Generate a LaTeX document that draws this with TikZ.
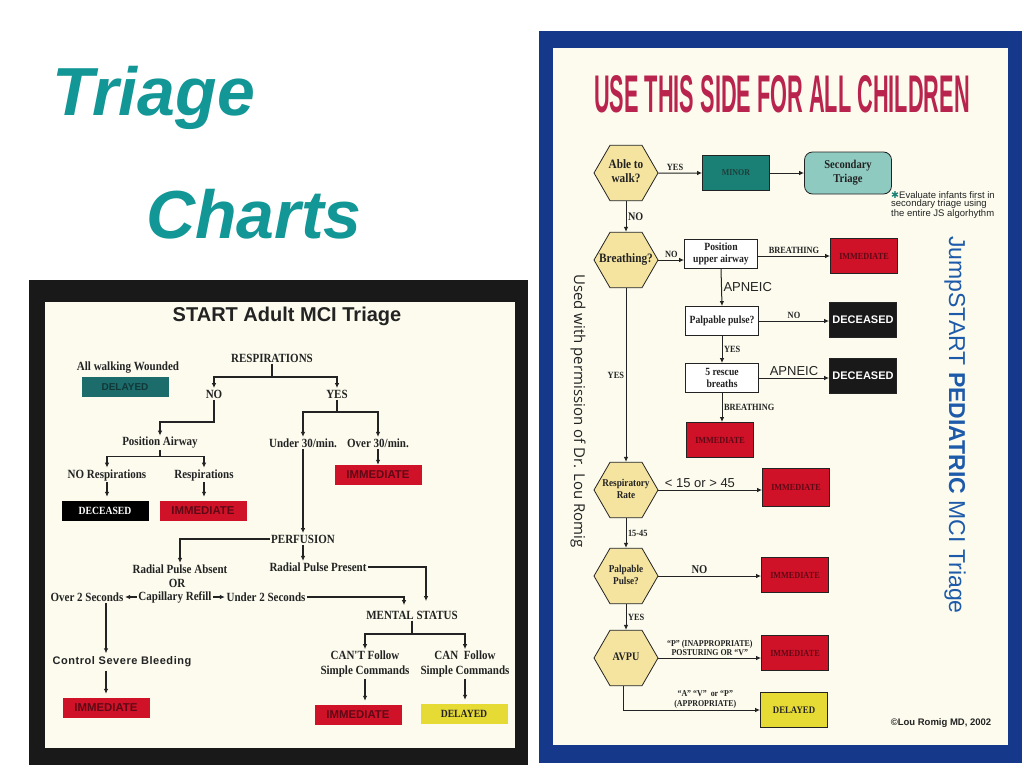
\documentclass[tikz,border=0pt]{standalone}
\usepackage{fontspec}
\setmainfont{Liberation Serif}
\newfontfamily\cardserif[FakeStretch=0.88]{Liberation Serif}
\newfontfamily\cardsans{Liberation Sans}
\newfontfamily\spacedsans[LetterSpace=5]{Liberation Sans}
\newfontfamily\kidsfont[FakeStretch=0.41]{Liberation Sans}
\newfontfamily\sidefont{Open Sans}
\newfontfamily\symfont{DejaVu Sans}
\usepackage{tikz}
\usetikzlibrary{arrows.meta,shapes.geometric,calc}

\definecolor{headteal}{RGB}{18,150,150}
\definecolor{cream}{RGB}{252,251,238}
\definecolor{frameblue}{RGB}{22,56,138}
\definecolor{tagred}{RGB}{208,18,40}
\definecolor{redtext}{RGB}{95,8,22}
\definecolor{tagyellow}{RGB}{230,218,52}
\definecolor{tagteal}{RGB}{28,108,108}
\definecolor{tealtext}{RGB}{18,55,55}
\definecolor{minorteal}{RGB}{26,128,118}
\definecolor{minortext}{RGB}{30,62,56}
\definecolor{lightteal}{RGB}{142,202,192}
\definecolor{hexfill}{RGB}{245,228,160}
\definecolor{kidsred}{RGB}{184,36,78}
\definecolor{jsblue}{RGB}{30,90,170}
\definecolor{ink}{RGB}{35,35,35}

% zero-width text, so the hexagon keeps its size
\newcommand{\hexlabel}[1]{\makebox[0pt]{\begin{tabular}{@{}c@{}}#1\end{tabular}}}

\begin{document}
\begin{tikzpicture}[x=1pt, y=-1pt, >={Latex[length=5pt,width=4.5pt]},
  lbl/.style={font=\cardserif\bfseries\fontsize{12.5}{15}\selectfont, inner sep=1.5pt, align=center, text=ink},
  tag/.style={minimum width=87pt, minimum height=20pt, inner sep=0pt},
  immtag/.style={tag, fill=tagred, text=redtext, font=\cardsans\bfseries\fontsize{11.4}{12}\selectfont},
  deadtag/.style={tag, fill=black, text=white, font=\cardserif\bfseries\fontsize{11}{12}\selectfont},
  yeltag/.style={tag, fill=tagyellow, text=ink, font=\cardserif\bfseries\fontsize{11}{12}\selectfont},
  kbox/.style={draw=ink, line width=0.8pt, minimum width=67pt, minimum height=35pt, inner sep=0pt, text=ink},
  kimm/.style={kbox, fill=tagred, text=redtext, font=\cardserif\bfseries\fontsize{9.3}{10}\selectfont},
  kdead/.style={kbox, fill=black!90, text=white, font=\cardsans\bfseries\fontsize{11}{12}\selectfont},
  kstep/.style={kbox, fill=white, minimum width=73pt, minimum height=29pt, align=center,
    font=\cardserif\bfseries\fontsize{11}{12}\selectfont},
  khex/.style={regular polygon, regular polygon sides=6, minimum size=64pt, inner sep=0pt,
    draw=ink, line width=0.8pt, fill=hexfill, text=ink, font=\cardserif\bfseries\fontsize{12.8}{14}\selectfont},
  klbl/.style={font=\cardserif\bfseries\fontsize{9.5}{10}\selectfont, inner sep=1.5pt, align=center, text=ink},
  ksans/.style={font=\cardsans\fontsize{13}{14}\selectfont, inner sep=1.5pt, text=ink},
  ladult/.style={draw=ink, line width=1.3pt},
  lkids/.style={draw=ink, line width=1pt}]

\useasboundingbox (0,0) rectangle (1024,768);
\fill[white] (0,0) rectangle (1024,768);

% slide title
\node[anchor=base west, inner sep=0pt, text=headteal, font=\cardsans\bfseries\itshape\fontsize{68}{70}\selectfont] (ttl1) at (52,115) {Triage};
\node[anchor=base west, inner sep=0pt, text=headteal, font=\cardsans\bfseries\itshape\fontsize{68}{70}\selectfont] (ttl2) at (146,238) {Charts};

% START adult card
\fill[black!90] (29,280) rectangle (528,765);
\fill[cream] (45,302) rectangle (515,748);
\node[font=\cardsans\bfseries\fontsize{20}{22}\selectfont, text=ink] (adult) at (287,316) {START Adult MCI Triage};

\node[lbl] (walkers) at (128,368) {All walking Wounded};
\node[tag, fill=tagteal, text=tealtext, font=\cardsans\bfseries\fontsize{10}{11}\selectfont] (walkdel) at (125,387) {DELAYED};
\node[lbl] (resp) at (272,358) {RESPIRATIONS};
\node[lbl] (respno) at (214,394) {NO};
\node[lbl] (respyes) at (337,394) {YES};
\node[lbl] (airway) at (160,443) {Position Airway};
\node[lbl] (under30) at (303,443) {Under 30/min.};
\node[lbl] (over30) at (378,443) {Over 30/min.};
\node[immtag] (immover) at (378,475) {IMMEDIATE};
\node[lbl] (norsp) at (107,475) {NO Respirations};
\node[lbl] (rsp) at (204,475) {Respirations};
\node[deadtag] (dead) at (105,511) {DECEASED};
\node[immtag] (immrsp) at (203,511) {IMMEDIATE};
\node[lbl] (perf) at (303,539) {PERFUSION};
\node[lbl] (absent) at (180,569) {Radial Pulse Absent};
\node[lbl] (orword) at (177,583) {OR};
\node[lbl] (present) at (318,567) {Radial Pulse Present};
\node[lbl] (refill) at (175,597) {Capillary Refill};
\node[lbl] (over2) at (87,597) {Over 2 Seconds};
\node[lbl] (under2) at (266,597) {Under 2 Seconds};
\node[lbl] (mental) at (412,615) {MENTAL STATUS};
\node[lbl] (cant) at (365,664) {CAN'T Follow\\Simple Commands};
\node[lbl] (can) at (465,664) {CAN\ \ Follow\\Simple Commands};
\node[immtag] (immcant) at (358,715) {IMMEDIATE};
\node[yeltag] (delcan) at (464,714) {DELAYED};
\node[font=\spacedsans\bfseries\fontsize{11}{12}\selectfont, text=ink] (bleed) at (122,662) {Control Severe Bleeding};
\node[immtag] (immbleed) at (106,708) {IMMEDIATE};

\draw[ladult, ->] (resp.south) -- ++(0,13) -| (respno.north);
\draw[ladult, ->] (resp.south) -- ++(0,13) -| (respyes.north);
\draw[ladult, ->] (respno.south) -- ++(0,22) -| (airway.north);
\draw[ladult, ->] (respyes.south) -- ++(0,12) -| (under30.north);
\draw[ladult, ->] (respyes.south) -- ++(0,12) -| (over30.north);
\draw[ladult, ->] (airway.south) -- ++(0,6) -| (norsp.north);
\draw[ladult, ->] (airway.south) -- ++(0,6) -| (rsp.north);
\draw[ladult, ->] (over30.south) -- (immover.north);
\draw[ladult, ->, shorten >=4pt] (norsp.south) -- (norsp.south |- dead.north);
\draw[ladult, ->, shorten >=4pt] (rsp.south) -- (rsp.south |- immrsp.north);
\draw[ladult, ->] (under30.south) -- (under30.south |- perf.north);
\draw[ladult, ->] (perf.west) -| (absent.north);
\draw[ladult, ->] (perf.south) -- (perf.south |- present.north);
\draw[ladult, ->] (present.east) -| ($(mental.north)+(14,-8)$);
\draw[ladult, ->] (refill.west) -- (over2.east);
\draw[ladult, ->] (refill.east) -- (under2.west);
\draw[ladult, ->] (under2.east) -| ($(mental.north)+(-8,-4)$);
\draw[ladult, ->] (over2.south -| immbleed.north) -- (bleed.north -| immbleed.north);
\draw[ladult, ->, shorten >=4pt] (bleed.south -| immbleed.north) -- (immbleed.north);
\draw[ladult, ->] (mental.south) -- ++(0,13) -| (cant.north);
\draw[ladult, ->] (mental.south) -- ++(0,13) -| (can.north);
\draw[ladult, ->, shorten >=4pt] (cant.south) -- (cant.south |- immcant.north);
\draw[ladult, ->, shorten >=4pt] (can.south) -- (can.south |- delcan.north);

% JumpSTART pediatric card
\fill[frameblue] (539,31) rectangle (1022,763);
\fill[cream] (553,48) rectangle (1008,745);
\node[font=\kidsfont\bfseries\fontsize{53}{55}\selectfont, text=kidsred] (kids) at (782,94) {USE THIS SIDE FOR ALL CHILDREN};

\node[khex] (walk) at (626,173) {\hexlabel{Able to\\walk?}};
\node[kbox, fill=minorteal, text=minortext, font=\cardserif\bfseries\fontsize{9}{10}\selectfont] (minor) at (736,173) {MINOR};
\node[kbox, rounded corners=8pt, fill=lightteal, minimum width=87pt, minimum height=42pt, align=center,
  font=\cardserif\bfseries\fontsize{12}{14}\selectfont] (second) at (848,173) {Secondary\\Triage};
\node[anchor=north west, align=left, inner sep=0pt, text=ink, font=\cardsans\fontsize{9.5}{8.8}\selectfont] (infants) at (891,191)
  {{\symfont\textcolor{minorteal}{✱}}Evaluate infants first in\\secondary triage using\\the entire JS algorhythm};
\node[khex] (breath) at (626,260) {\hexlabel{Breathing?}};
\node[kstep] (upper) at (721,254) {Position\\upper airway};
\node[kimm] (immair) at (864,256) {IMMEDIATE};
\node[kstep] (pulse) at (722,321) {Palpable pulse?};
\node[kdead] (deadpulse) at (863,320) {DECEASED};
\node[kstep] (rescue) at (722,378) {5 rescue\\breaths};
\node[kdead] (deadrescue) at (863,376) {DECEASED};
\node[kimm] (immrescue) at (720,440) {IMMEDIATE};
\node[khex, font=\cardserif\bfseries\fontsize{10.5}{12}\selectfont] (rate) at (626,490) {\hexlabel{Respiratory\\Rate}};
\node[kimm, minimum height=38pt] (immrate) at (796,487) {IMMEDIATE};
\node[khex, font=\cardserif\bfseries\fontsize{10.5}{12}\selectfont] (ppulse) at (626,576) {\hexlabel{Palpable\\Pulse?}};
\node[kimm] (immppulse) at (795,575) {IMMEDIATE};
\node[khex, font=\cardserif\bfseries\fontsize{11.5}{12}\selectfont] (avpu) at (626,658) {\hexlabel{AVPU}};
\node[kimm] (immavpu) at (795,653) {IMMEDIATE};
\node[kbox, fill=tagyellow, font=\cardserif\bfseries\fontsize{10}{11}\selectfont] (delavpu) at (794,710) {DELAYED};

\draw[lkids, ->] (walk.east) -- node[klbl, above, pos=.38] {YES} (minor.west);
\draw[lkids, ->] (minor) -- (second);
\draw[lkids, ->] (walk.south) -- node[klbl, right, font=\cardserif\bfseries\fontsize{11.5}{12}\selectfont] {NO} (breath.north);
\draw[lkids, ->] (breath.east) -- node[klbl, above] {NO} (breath.east -| upper.west);
\draw[lkids, ->] (immair.west -| upper.east) -- node[klbl, above] {BREATHING} (immair.west);
\draw[lkids, ->] (upper.south) -- node[ksans, right] {APNEIC} (pulse.north);
\draw[lkids, ->] (pulse.east) -- node[klbl, above] {NO} (pulse.east -| deadpulse.west);
\draw[lkids, ->] (pulse.south) -- node[klbl, right] {YES} (rescue.north);
\draw[lkids, ->] (rescue.east) -- node[ksans, above] {APNEIC} (rescue.east -| deadrescue.west);
\draw[lkids, ->] (rescue.south) -- node[klbl, right] {BREATHING} (rescue.south |- immrescue.north);
\draw[lkids, ->] (breath.south) -- node[klbl, left] {YES} (rate.north);
\draw[lkids, ->] (rate.east) -- node[ksans, above, pos=.4] {\textless{} 15 or \textgreater{} 45} (rate.east -| immrate.west);
\draw[lkids, ->] (rate.south) -- node[klbl, right] {15-45} (ppulse.north);
\draw[lkids, ->] (ppulse.east) -- node[klbl, above, pos=.4, font=\cardserif\bfseries\fontsize{12}{12}\selectfont] {NO} (ppulse.east -| immppulse.west);
\draw[lkids, ->] (ppulse.south) -- node[klbl, right] {YES} (avpu.north);
\draw[lkids, ->] (avpu.east) -- node[klbl, above, font=\cardserif\bfseries\fontsize{9}{9.5}\selectfont] {“P” (INAPPROPRIATE)\\POSTURING OR “V”} (avpu.east -| immavpu.west);
\draw[lkids, ->] ($(avpu.south)+(-3,0)$) |- node[klbl, above, pos=.8, font=\cardserif\bfseries\fontsize{9}{9.5}\selectfont] {“A” “V”\ \ or “P”\\(APPROPRIATE)} (delavpu.west);

\node[rotate=-90, font=\sidefont\fontsize{15}{16}\selectfont, text=ink] (perm) at (578,411) {Used with permission of Dr. Lou Romig};
\node[rotate=-90, font=\cardsans\fontsize{23}{24}\selectfont, text=jsblue] (jstitle) at (955,425) {JumpSTART \textbf{PEDIATRIC} MCI Triage};
\node[font=\cardsans\bfseries\fontsize{9.5}{10}\selectfont, text=ink] (romig) at (941,723) {©Lou Romig MD, 2002};
\end{tikzpicture}
\end{document}
